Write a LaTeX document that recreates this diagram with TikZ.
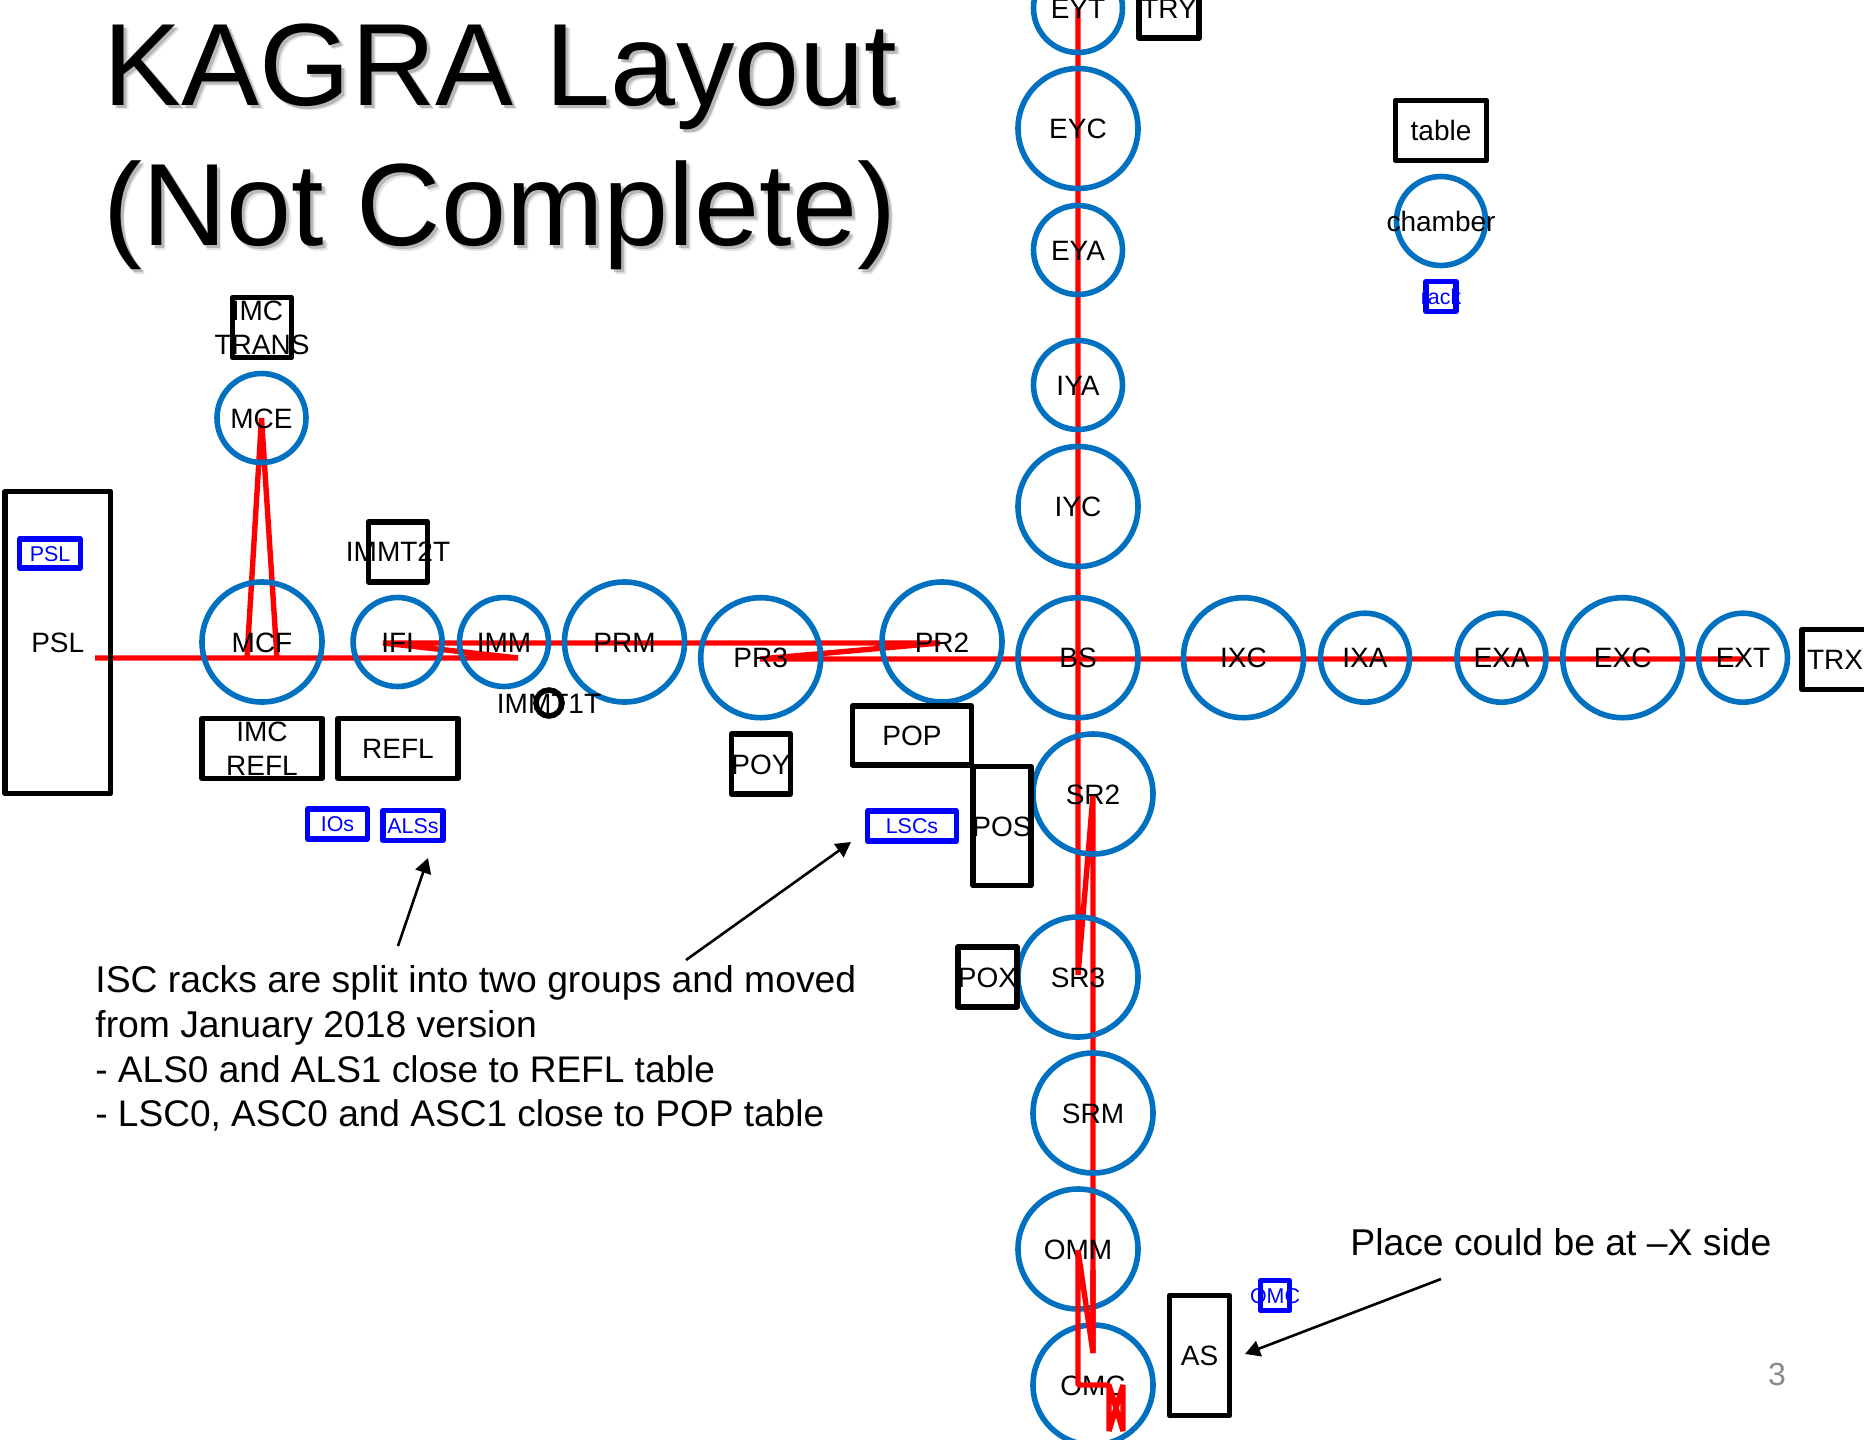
\documentclass[tikz,border=0pt]{standalone}
\usepackage{fontspec}
\usetikzlibrary{arrows.meta}
\setmainfont{Liberation Sans}
\definecolor{ringblue}{HTML}{0070C0}
\definecolor{rackblue}{HTML}{0000FF}
\definecolor{pagegray}{HTML}{898989}
\newcommand\ovone[1]{\makebox[0pt][c]{\raisebox{-0.36em}[0pt][0pt]{#1}}}
\newcommand\ovtwo[2]{\makebox[0pt][c]{\raisebox{\dimexpr8.4pt-0.36em\relax}[0pt][0pt]{#1}}\makebox[0pt][c]{\raisebox{\dimexpr-8.4pt-0.36em\relax}[0pt][0pt]{#2}}}
\tikzset{
  ring/.style={draw=ringblue,circle,line width=2.8pt,inner sep=0pt,minimum size=#1,font=\fontsize{14}{16}\selectfont},
  big/.style={ring=60pt},
  small/.style={ring=44.5pt},
  tbl/.style n args={2}{draw=black,rectangle,line width=2.8pt,line join=round,inner sep=0pt,minimum width=#1,minimum height=#2,font=\fontsize{14}{16}\selectfont},
  rck/.style n args={2}{draw=rackblue,rectangle,line width=2.7pt,line join=round,inner sep=0pt,minimum width=#1,minimum height=#2,text=rackblue,font=\fontsize{10.7}{13}\selectfont},
  beam/.style={draw=red,line width=2.7pt,line join=bevel},
  note/.style={inner sep=0pt,anchor=base west,font=\fontsize{18.65}{22.35}\selectfont},
  notesmall/.style={inner sep=0pt,anchor=base west,font=\fontsize{18.52}{22.35}\selectfont},
  pointer/.style={draw=black,line width=1.3pt,-{Triangle[length=7.5pt,width=8pt]}},
  heading/.style={inner sep=0pt,anchor=base west,font=\fontsize{58.5}{70}\selectfont},
}
\begin{document}
\begin{tikzpicture}[x=0.5pt,y=-0.5pt]
\useasboundingbox (0,0) rectangle (1864,1440);
% beam way points
\coordinate (b0) at (95,658);
\coordinate (b1) at (518,658);
\coordinate (b2) at (383,643);
\coordinate (b3) at (940,643);
\coordinate (b4) at (760,659);
\coordinate (b5) at (1743,659);
\coordinate (v0) at (1078,8);
\coordinate (v1) at (1078,975);
\coordinate (v2) at (1093,795);
\coordinate (v3a) at (1093,1270);
\coordinate (v3) at (1093,1353);
\coordinate (v4) at (1078,1250);
\coordinate (v5) at (1078,1385);
\coordinate (v6) at (1109,1385);
\coordinate (z1) at (1109,1431);
\coordinate (z2) at (1123,1385);
\coordinate (z3) at (1123,1431);
\coordinate (m0) at (247,658);
\coordinate (m1) at (261.5,418);
\coordinate (m2) at (277,658);
% beams below the chambers
\draw[beam] (b0) -- (b1) -- (b2) -- (b3) -- (b4) -- (b5);
\draw[beam] (v0) -- (v1) -- (v2) -- (v3);
\draw[beam] (m0) -- (m1) -- (m2);
% title
\node[heading,text=black!50,opacity=.2] at (108,109.5) {KAGRA Layout};
\node[heading,text=black!50,opacity=.2] at (107.5,250) {(Not Complete)};
\node[heading,text=black!50,opacity=.45] at (106.5,108) {KAGRA Layout};
\node[heading,text=black!50,opacity=.45] at (106,248.5) {(Not Complete)};
\node[heading] (t1) at (103.5,105) {KAGRA Layout};
\node[heading] (t2) at (103,245.5) {(Not Complete)};
% chambers
\node[big] (MCF) at (262,642) {\ovone{MCF}};
\node[small] (MCE) at (261.5,418) {\ovone{MCE}};
\node[small] (IFI) at (397.6,642) {\ovone{IFI}};
\node[small] (IMM) at (504,642) {\ovone{IMM}};
\node[big] (PRM) at (624.5,642) {\ovone{PRM}};
\node[big] (PR3) at (760.7,657.7) {\ovone{PR3}};
\node[big] (PR2) at (942,642) {\ovone{PR2}};
\node[big] (BS) at (1078,657.7) {\ovone{BS}};
\node[big] (IXC) at (1243.5,657.7) {\ovone{IXC}};
\node[small] (IXA) at (1365,657.7) {\ovone{IXA}};
\node[small] (EXA) at (1501.5,657.7) {\ovone{EXA}};
\node[big] (EXC) at (1622.7,657.7) {\ovone{EXC}};
\node[small] (EXT) at (1743,657.7) {\ovone{EXT}};
\node[small] (EYT) at (1078,8) {\ovone{EYT}};
\node[big] (EYC) at (1078,128.5) {\ovone{EYC}};
\node[small] (EYA) at (1078,250) {\ovone{EYA}};
\node[small] (IYA) at (1078,385) {\ovone{IYA}};
\node[big] (IYC) at (1078,506.5) {\ovone{IYC}};
\node[big] (SR2) at (1093,794) {\ovone{SR2}};
\node[big] (SR3) at (1078,977) {\ovone{SR3}};
\node[big] (SRM) at (1093,1113) {\ovone{SRM}};
\node[big] (OMM) at (1078,1249) {\ovone{OMM}};
\node[big] (OMC) at (1093,1385) {\ovone{OMC}};
\node[small] (chamber) at (1441,221) {\ovone{chamber}};
\node[draw=black,circle,line width=2.8pt,inner sep=0pt,minimum size=13pt,font=\fontsize{14}{16}\selectfont] (IMMTT) at (549,703) {\ovone{IMMT1T}};
% tables
\node[tbl={52.75pt}{151pt}] (PSLtable) at (57.75,642.5) {\ovone{PSL}};
\node[tbl={29.5pt}{30pt}] (IMCT) at (262,327.5) {\ovtwo{IMC\hspace{4.5pt}}{TRANS}};
\node[tbl={60pt}{30pt}] (IMCR) at (262,748.3) {\ovtwo{IMC}{REFL}};
\node[tbl={60pt}{30pt}] (REFL) at (398,748.3) {\ovone{REFL}};
\node[tbl={29.5pt}{30pt}] (IMMT2T) at (398,551.7) {\ovone{IMMT2T}};
\node[tbl={29.5pt}{30pt}] (POY) at (761,764) {\ovone{POY}};
\node[tbl={59.5pt}{29.5pt}] (POP) at (912,735.5) {\ovone{POP}};
\node[tbl={29pt}{59.5pt}] (POS) at (1002,826) {\ovone{POS}};
\node[tbl={29.5pt}{30pt}] (POX) at (987.5,977) {\ovone{POX}};
\node[tbl={30pt}{60pt}] (AS) at (1199.5,1355.5) {\ovone{AS}};
\node[tbl={45.5pt}{30pt}] (table) at (1441,130.5) {\ovone{table}};
\node[tbl={30pt}{30pt}] (TRY) at (1169,8) {\ovone{TRY}};
\node[tbl={33pt}{30pt}] (TRX) at (1835,659.5) {\ovone{TRX}};
% racks
\node[rck={30.25pt}{14.5pt}] (rPSL) at (50,553.5) {\ovone{PSL}};
\node[rck={30pt}{15pt}] (rIOs) at (337.5,824) {\ovone{IOs}};
\node[rck={30pt}{15pt}] (rALS) at (413,825.5) {\ovone{ALSs}};
\node[rck={44.5pt}{15pt}] (rLSC) at (912,826) {\ovone{LSCs}};
\node[rck={14.5pt}{15pt}] (rOMC) at (1275,1295.5) {\ovone{OMC}};
\node[rck={15pt}{15pt}] (rack) at (1441,296.5) {\ovone{rack}};
% beams above the chambers
\draw[beam] (v3a) -- (v3) -- (v4) -- (v5) -- (v6) -- (z1) -- (z2) -- (z3) -- (v6);
% notes
\node[note] (n1) at (95,992) {ISC racks are split into two groups and moved};
\node[note] (n2) at (95,1037.5) {from January 2018 version};
\node[notesmall] (n3) at (95,1082) {- ALS0 and ALS1 close to REFL table};
\node[notesmall] (n4) at (95,1126) {- LSC0, ASC0 and ASC1 close to POP table};
\node[note] (n5) at (1350,1255.5) {Place could be at –X side};
\node[text=pagegray,font=\fontsize{16}{19}\selectfont,inner sep=0pt] (page) at (1777,1374) {3};
% pointers
\coordinate (p1a) at (398,946);
\coordinate (p1b) at (428,858);
\coordinate (p2a) at (686,960);
\coordinate (p2b) at (851,842);
\coordinate (p3a) at (1441,1279);
\coordinate (p3b) at (1245,1354);
\draw[pointer] (p1a) -- (p1b);
\draw[pointer] (p2a) -- (p2b);
\draw[pointer] (p3a) -- (p3b);
\end{tikzpicture}
\end{document}
